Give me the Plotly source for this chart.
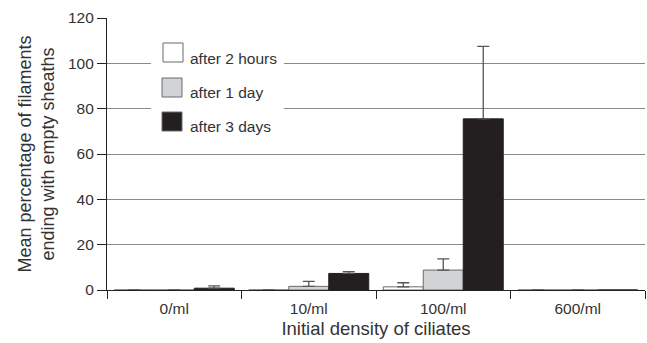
import plotly.graph_objects as go

categories = ["0/ml", "10/ml", "100/ml", "600/ml"]
series_names = ["after 2 hours", "after 1 day", "after 3 days"]
vals_2h = [0, 0, 1.4, 0]
err_2h = [0, 0, 1.8, 0]
vals_1d = [0, 1.6, 8.8, 0]
err_1d = [0, 2.2, 4.9, 0]
vals_3d = [0.8, 7.3, 75.5, 0]
err_3d = [1.0, 0.8, 32.0, 0]
yticks = [0, 20, 40, 60, 80, 100, 120]

fills = ["#ffffff", "#d2d3d5", "#231f20"]
lines = ["#6a6a6a", "#6a6a6a", "#231f20"]
TXT = "#333333"
FONT = "Liberation Sans, Arial, sans-serif"

fig = go.Figure()
for name, v, e, fc, lc in zip(series_names, [vals_2h, vals_1d, vals_3d],
                              [err_2h, err_1d, err_3d], fills, lines):
    fig.add_trace(go.Bar(
        x=categories, y=v, name=name, showlegend=False,
        marker=dict(color=fc, line=dict(color=lc, width=1)),
        error_y=dict(type="data", array=e, arrayminus=[0] * len(e),
                     symmetric=False, color="#555555", thickness=1.3, width=6),
    ))

# plot-area geometry in pixels (for the hand-drawn legend)
L, R, T, B = 107, 645, 18, 290
def px(x):
    return (x - L) / (R - L)
def py(y):
    return (B - y) / (B - T)

shapes = [dict(type="rect", xref="paper", yref="paper", layer="above",
               x0=px(151), x1=px(284), y0=py(140), y1=py(28),
               fillcolor="white", line=dict(width=0))]
annotations = []
boxes = [(163, 43), (162, 78), (162, 112)]
text_y = [58, 92, 126]
for (bx, by), ty, name, fc in zip(boxes, text_y, series_names, fills):
    shapes.append(dict(type="rect", xref="paper", yref="paper", layer="above",
                       x0=px(bx), x1=px(bx + 20), y0=py(by + 19), y1=py(by),
                       fillcolor=fc, line=dict(color="#6a6a6a", width=1)))
    annotations.append(dict(text=name, xref="paper", yref="paper",
                            x=px(188), y=py(ty), xanchor="left", yanchor="middle",
                            showarrow=False, font=dict(size=15.5, color=TXT, family=FONT)))

fig.update_layout(
    width=647, height=343,
    margin=dict(l=L, r=647 - R, t=T, b=343 - B),
    paper_bgcolor="white", plot_bgcolor="white",
    barmode="group", bargap=0.108, bargroupgap=0,
    font=dict(family=FONT, color=TXT, size=15.5),
    shapes=shapes, annotations=annotations,
    xaxis=dict(
        type="category", tickson="boundaries", ticks="outside", ticklen=8,
        tickcolor="#222222", showline=True, linecolor="#222222", linewidth=1.2,
        showgrid=False, tickfont=dict(size=15.5, color=TXT), ticklabelstandoff=4,
        title=dict(text="Initial density of ciliates", font=dict(size=18.5, color=TXT), standoff=6),
    ),
    yaxis=dict(
        range=[0, 120], tickvals=yticks, ticks="outside", ticklen=9,
        tickcolor="#222222", showline=True, linecolor="#222222", linewidth=1.2,
        showgrid=True, gridcolor="#8a8a8a", gridwidth=1.3, zeroline=False,
        tickfont=dict(size=15.5, color=TXT),
        title=dict(text="Mean percentage of filaments<br>ending with empty sheaths",
                   font=dict(size=18, color=TXT), standoff=8),
    ),
)

fig.write_html("out.html")
